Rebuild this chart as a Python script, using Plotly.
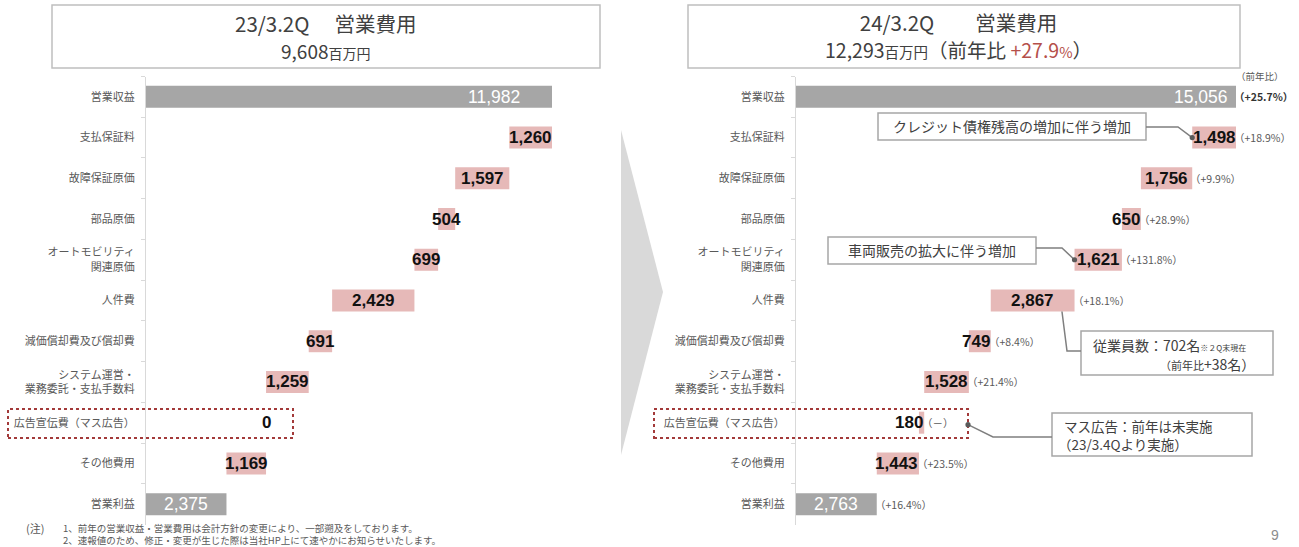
import plotly.graph_objects as go

# ---- data (百万円) ----
categories = [
    "営業収益", "支払保証料", "故障保証原価", "部品原価",
    "オートモビリティ<br>関連原価", "人件費", "減価償却費及び償却費",
    "システム運営・<br>業務委託・支払手数料", "広告宣伝費（マス広告）",
    "その他費用", "営業利益",
]
revenue_23 = 11982
expenses_23 = [1260, 1597, 504, 699, 2429, 691, 1259, 0, 1169]
profit_23 = 2375

revenue_24 = 15056
expenses_24 = [1498, 1756, 650, 1621, 2867, 749, 1528, 180, 1443]
profit_24 = 2763
yoy_24 = ["（+25.7%）", "（+18.9%）", "（+9.9%）", "（+28.9%）", "（+131.8%）",
          "（+18.1%）", "（+8.4%）", "（+21.4%）", "（－）", "（+23.5%）", "（+16.4%）"]

total_cost_23 = "9,608"
total_cost_24 = "12,293"
total_cost_yoy = "+27.9"

# ---- geometry helpers ----
W, H = 1299, 547
def px(x):
    return x / W
def py(y):
    return 1 - y / H

GREY = "#A6A6A6"
PINK = "#E6B9B8"
TXT = "#404040"
LAB = "#595959"
NUM_FONT = "Liberation Sans"
JP_FONT = "Noto Sans CJK JP"

# plot areas (pixels)
L_X0, L_X1 = 146, 600
R_X0, R_X1 = 796, 1290
Y_TOP, Y_BOT = 76.5, 524.5
L_SCALE = 406 / 11982      # px per 百万円, left panel
R_SCALE = 440 / 15056      # px per 百万円, right panel
L_RANGE = (L_X1 - L_X0) / L_SCALE
R_RANGE = (R_X1 - R_X0) / R_SCALE


def waterfall(rev, exps, prof):
    bases, widths, colors = [0], [rev], [GREY]
    running = rev
    for v in exps:
        running -= v
        bases.append(running)
        widths.append(v)
        colors.append(PINK)
    bases.append(0)
    widths.append(prof)
    colors.append(GREY)
    return bases, widths, colors


fig = go.Figure()

lb, lw, lc = waterfall(revenue_23, expenses_23, profit_23)
rb, rw, rc = waterfall(revenue_24, expenses_24, profit_24)

fig.add_trace(go.Bar(y=categories, x=lw, base=lb, orientation="h",
                     marker=dict(color=lc, line=dict(width=0)), width=0.54,
                     xaxis="x", yaxis="y", hoverinfo="skip", showlegend=False))
fig.add_trace(go.Bar(y=categories, x=rw, base=rb, orientation="h",
                     marker=dict(color=rc, line=dict(width=0)), width=0.54,
                     xaxis="x2", yaxis="y2", hoverinfo="skip", showlegend=False))

ann = []

def label(**kw):
    kw.setdefault("showarrow", False)
    kw.setdefault("xanchor", "center")
    kw.setdefault("yanchor", "middle")
    ann.append(kw)

def plabel(x, y, text, font, xanchor="center", **kw):
    label(x=px(x), y=py(y), xref="paper", yref="paper", text=text,
          font=font, xanchor=xanchor, **kw)

def num_width(s, size=17):
    w = 0
    for ch in s:
        w += 0.278 * size if ch == "," else 0.556 * size
    return w

WHITE_NUM = dict(family=NUM_FONT, size=17.5, color="white")
BOLD_NUM = dict(family=NUM_FONT, size=17, color="#111111")

n = len(categories)
# value labels, left panel
for i in range(n):
    s = f"{lw[i]:,}"
    if i == 0:
        label(x=lb[i] + lw[i], y=categories[i], xref="x", yref="y",
              text=s, xanchor="right", xshift=-30, font=WHITE_NUM)
    elif i == n - 1:
        label(x=lb[i] + lw[i] / 2, y=categories[i], xref="x", yref="y",
              text=s, font=WHITE_NUM)
    else:
        label(x=lb[i] + lw[i] / 2, y=categories[i], xref="x", yref="y",
              text=f"<b>{s}</b>", font=BOLD_NUM)

# value labels and year-on-year, right panel
YOY_FONT = dict(family=JP_FONT, size=10.5, color=LAB)
for i in range(n):
    s = f"{rw[i]:,}"
    end = rb[i] + rw[i]
    if i == 0:
        label(x=end, y=categories[i], xref="x2", yref="y2",
              text=s, xanchor="right", xshift=-6, font=WHITE_NUM)
        label(x=end, y=categories[i], xref="x2", yref="y2",
              text=f"<b>{yoy_24[i]}</b>", xanchor="left", xshift=-4,
              font=dict(family=JP_FONT, size=10.5, color="#333333"))
        continue
    if i == n - 1:
        label(x=rb[i] + rw[i] / 2, y=categories[i], xref="x2", yref="y2",
              text=s, font=WHITE_NUM)
    else:
        bar_px = rw[i] * R_SCALE
        if num_width(s) > bar_px - 1:
            label(x=end, y=categories[i], xref="x2", yref="y2",
                  text=f"<b>{s}</b>", xanchor="right", xshift=1, font=BOLD_NUM)
        else:
            label(x=rb[i] + rw[i] / 2, y=categories[i], xref="x2", yref="y2",
                  text=f"<b>{s}</b>", font=BOLD_NUM)
    label(x=end, y=categories[i], xref="x2", yref="y2",
          text=yoy_24[i], xanchor="left", xshift=-4, font=YOY_FONT)

plabel(1260, 76, "（前年比）", dict(family=JP_FONT, size=9.5, color=LAB))

# titles (two lines each)
plabel(326, 36,
       ("23/3.2Q　 営業費用<br>"
        f"<span style='font-size:19px'>{total_cost_23}</span>"
        "<span style='font-size:14px'>百万円</span>"),
       dict(family=JP_FONT, size=20.5, color=TXT))
plabel(958, 36,
       ("24/3.2Q　　営業費用<br>"
        f"<span style='font-size:19.5px'>{total_cost_24}</span>"
        "<span style='font-size:14.5px'>百万円</span>"
        "<span style='font-size:19.5px'>（前年比 </span>"
        f"<span style='color:#B5504A;font-size:19.5px'>{total_cost_yoy}</span>"
        "<span style='color:#B5504A;font-size:14.5px'>%</span>"
        "<span style='font-size:19.5px'>）</span>"),
       dict(family=JP_FONT, size=20.5, color=TXT))

# callouts
def rx(v):
    return R_X0 + v * R_SCALE

call_font = dict(family=JP_FONT, size=14, color=TXT)
plabel((878 + 1146) / 2, 126, "クレジット債権残高の増加に伴う増加", call_font)
plabel((828 + 1036) / 2, 250, "車両販売の拡大に伴う増加", call_font)
plabel(1091, 345, "従業員数：702名<span style='font-size:8px'>※２Q末現在</span>",
       call_font, xanchor="left")
plabel(1158, 364, "<span style='font-size:11px'>（前年比</span>+38名）",
       call_font, xanchor="left")
plabel(1062, 425.5, "マス広告：前年は未実施",
       dict(family=JP_FONT, size=13.5, color=TXT), xanchor="left")
plabel(1056, 443.5, "（23/3.4Qより実施）",
       dict(family=JP_FONT, size=13.5, color=TXT), xanchor="left")

# footnote and page number
plabel(24, 528, "(注)", dict(family=JP_FONT, size=11, color=LAB), xanchor="left")
plabel(62, 520,
       ("1、前年の営業収益・営業費用は会計方針の変更により、一部遡及をしております。<br>"
        "2、速報値のため、修正・変更が生じた際は当社HP上にて速やかにお知らせいたします。"),
       dict(family=JP_FONT, size=9.5, color=LAB), xanchor="left", yanchor="top",
       align="left", borderpad=0)
plabel(1275, 535, "9", dict(family=NUM_FONT, size=14, color="#8C8C8C"))

shapes = []
def rect(x0, y0, x1, y1, **kw):
    shapes.append(dict(type="rect", xref="paper", yref="paper",
                       x0=px(x0), x1=px(x1), y0=py(y1), y1=py(y0), **kw))

def path(points, close=False, **kw):
    d = "M " + " L ".join(f"{px(x)},{py(y)}" for x, y in points)
    if close:
        d += " Z"
    shapes.append(dict(type="path", xref="paper", yref="paper", path=d, **kw))

def dot(x, y, r=2.6):
    shapes.append(dict(type="circle", xref="paper", yref="paper",
                       x0=px(x - r), x1=px(x + r), y0=py(y + r), y1=py(y - r),
                       fillcolor="#5A5A5A", line=dict(width=0)))

# title boxes
rect(52, 5, 600, 68, line=dict(color="#BFBFBF", width=1.5), fillcolor="rgba(0,0,0,0)")
rect(688, 5, 1240, 68, line=dict(color="#BFBFBF", width=1.5), fillcolor="rgba(0,0,0,0)")

# arrow between panels
path([(621, 130), (663, 292), (621, 455)], close=True, fillcolor="#D9D9D9",
     line=dict(width=0))

# dotted highlight on the advertising row
rect(8, 409, 293, 438, line=dict(color="#A33A3A", width=2, dash="dot"))
rect(654, 409, 968, 438, line=dict(color="#A33A3A", width=2, dash="dot"))

# callout boxes
box_line = dict(color="#A6A6A6", width=1.5)
rect(878, 113, 1146, 140, line=box_line, fillcolor="white")
rect(828, 237, 1036, 264, line=box_line, fillcolor="white")
rect(1081, 331, 1273, 375, line=box_line, fillcolor="white")
rect(1052, 413, 1252, 456, line=box_line, fillcolor="white")

# leader lines
lead = dict(color="#7F7F7F", width=1.5)
row_y = [Y_TOP + (i + 0.5) * (Y_BOT - Y_TOP) / n for i in range(n)]
d1 = (rx(rb[1]), row_y[1])
d2 = (rx(rb[4]), row_y[4])
path([(1146, 127), (1178, 127), d1], line=lead)
path([(1036, 248), (1062, 248), d2], line=lead)
path([(rx(rb[5] + rw[5] * 0.85), row_y[5] + 11), (1067, 351), (1081, 351)], line=lead)
path([(968, row_y[8] + 2), (993, 437), (1052, 437)], line=lead)
dot(*d1)
dot(*d2)
dot(968, row_y[8] + 2)

yax = dict(type="category", categoryorder="array", categoryarray=categories,
           autorange="reversed", showline=True, linecolor="#D9D9D9", linewidth=1,
           ticks="outside", tickson="boundaries", ticklen=4, tickcolor="#D9D9D9",
           ticklabelstandoff=8,
           showgrid=False, zeroline=False, fixedrange=True,
           tickfont=dict(family=JP_FONT, size=11, color=LAB),
           domain=[py(Y_BOT), py(Y_TOP)])
xax = dict(visible=False, showgrid=False, zeroline=False, fixedrange=True)

fig.update_layout(
    width=W, height=H, margin=dict(l=0, r=0, t=0, b=0),
    paper_bgcolor="white", plot_bgcolor="rgba(0,0,0,0)",
    barmode="overlay",
    xaxis=dict(xax, domain=[px(L_X0), px(L_X1)], range=[0, L_RANGE], anchor="y"),
    yaxis=dict(yax, anchor="x"),
    xaxis2=dict(xax, domain=[px(R_X0), px(R_X1)], range=[0, R_RANGE], anchor="y2"),
    yaxis2=dict(yax, anchor="x2"),
    annotations=ann,
    shapes=shapes,
)

fig.write_html("out.html")
